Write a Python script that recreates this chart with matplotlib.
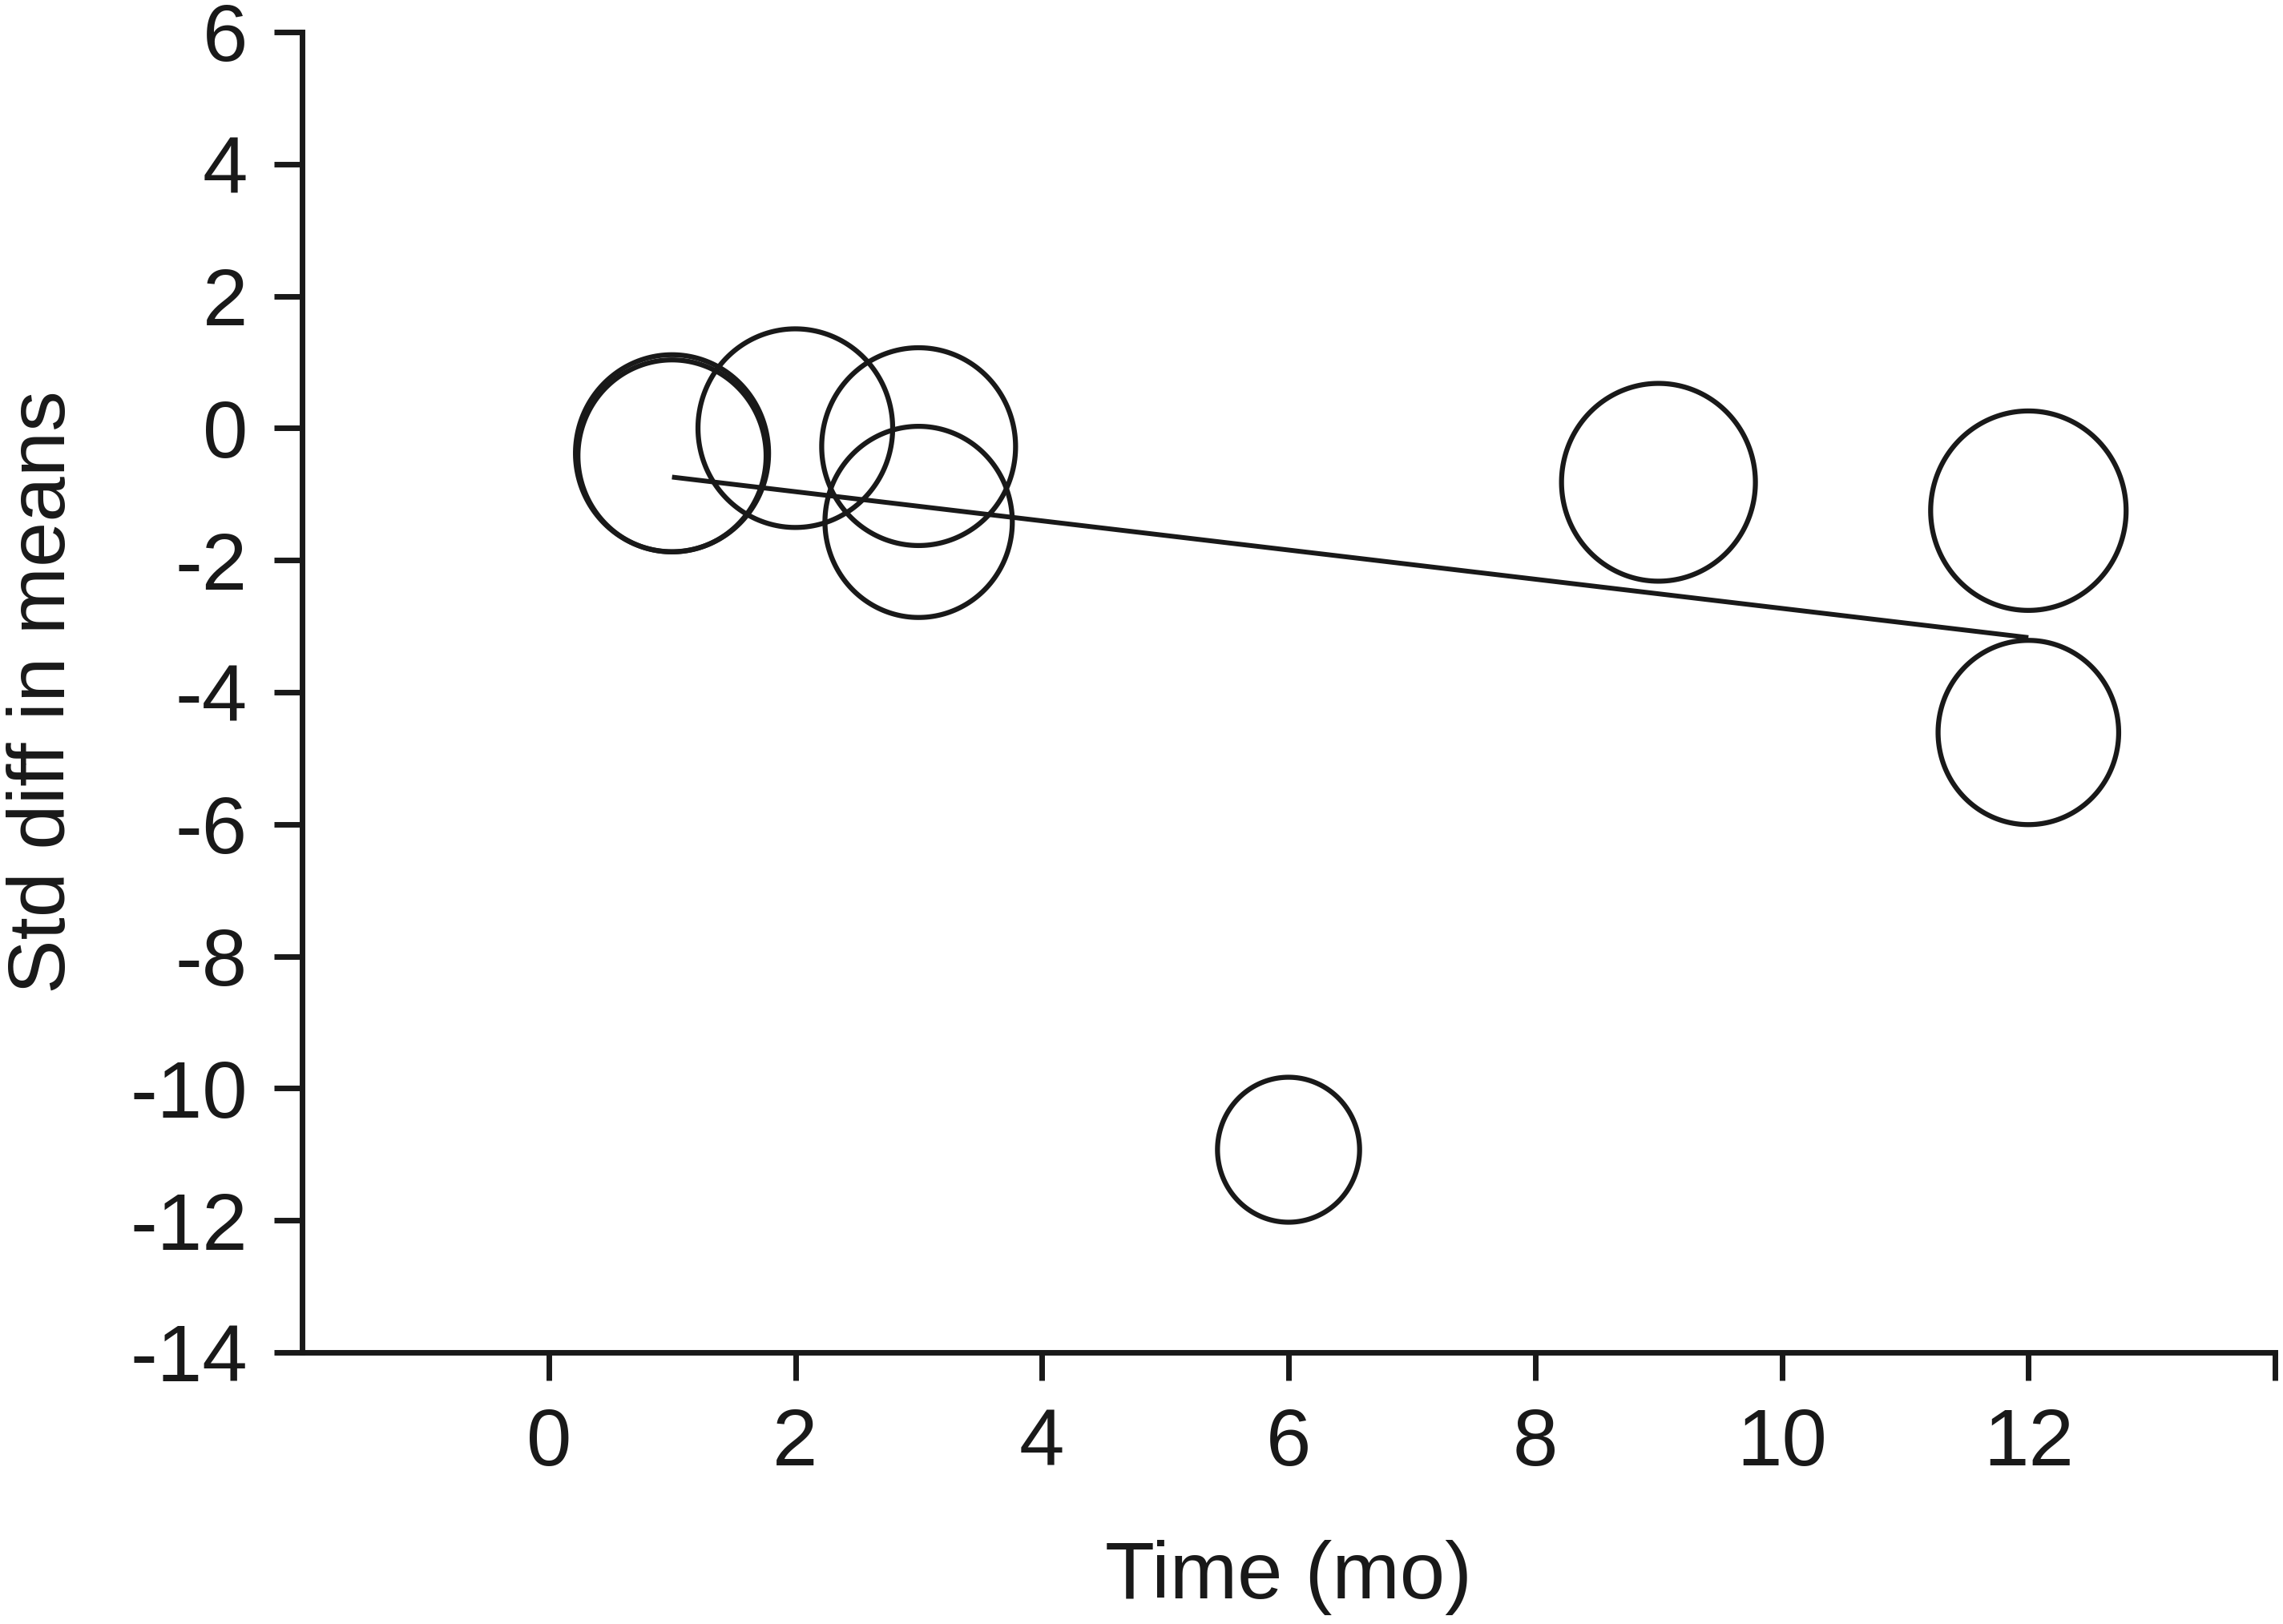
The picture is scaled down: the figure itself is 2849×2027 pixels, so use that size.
import numpy as np
import matplotlib
matplotlib.use("Agg")
import matplotlib.pyplot as plt
from matplotlib.path import Path
from matplotlib.markers import MarkerStyle

# ---- data ----
time_mo = [1, 1, 2, 3, 3, 6, 9, 12, 12]
std_diff = [-0.38, -0.42, 0.0, -0.28, -1.42, -10.93, -0.82, -1.25, -4.61]
weights = [12.0, 11.4, 12.2, 12.1, 11.3, 6.5, 12.1, 12.3, 10.5]
reg_intercept = -0.52
reg_slope = -0.221
x_ticks = [0, 2, 4, 6, 8, 10, 12, 14]
x_ticklabels = ["0", "2", "4", "6", "8", "10", "12", ""]
y_ticks = [-14, -12, -10, -8, -6, -4, -2, 0, 2, 4, 6]
y_ticklabels = ["-14", "-12", "-10", "-8", "-6", "-4", "-2", "0", "2", "4", "6"]

plt.rcParams["font.family"] = ["Liberation Sans", "DejaVu Sans"]
plt.rcParams["axes.unicode_minus"] = False

INK = "#191919"
W, H, DPI = 2849, 2027, 100
fig = plt.figure(figsize=(W / DPI, H / DPI), dpi=DPI)
ax = fig.add_axes([377 / W, 1 - 1688 / H, (2839 - 377) / W, (1688 - 40) / H])

# slightly elongated circle marker
theta = np.linspace(0, 2 * np.pi, 200)
verts = np.column_stack([0.98 * np.cos(theta), np.sin(theta)])
marker = MarkerStyle(Path(verts, closed=True))

k = 51.1
diam = k * np.sqrt(np.array(weights))
ax.scatter(time_mo, std_diff, s=diam ** 2, marker=marker,
           facecolors="none", edgecolors=INK, linewidths=4.5, zorder=3)

xr = np.array([min(time_mo), max(time_mo)], dtype=float)
ax.plot(xr, reg_intercept + reg_slope * xr, color=INK, lw=4.3, zorder=2,
        solid_capstyle="butt")

ax.set_xlim(-2, 14)
ax.set_ylim(-14, 6)
ax.set_xticks(x_ticks)
ax.set_xticklabels(x_ticklabels)
ax.set_yticks(y_ticks)
ax.set_yticklabels(y_ticklabels)

for s in ["top", "right"]:
    ax.spines[s].set_visible(False)
for s in ["left", "bottom"]:
    ax.spines[s].set_linewidth(5)
    ax.spines[s].set_color(INK)

ax.tick_params(direction="out", length=25, width=5, color=INK,
               labelsize=73, labelcolor=INK, pad=24)

ax.set_xlabel("Time (mo)", fontsize=73, color=INK)
ax.set_ylabel("Std diff in means", fontsize=73, color=INK)
ax.xaxis.label.set_va("baseline")
ax.yaxis.label.set_va("baseline")
ax.xaxis.set_label_coords(0.5, -0.1863)
ax.yaxis.set_label_coords(-0.1202, 0.5)

fig.savefig("out.png", dpi=DPI, facecolor="white")
